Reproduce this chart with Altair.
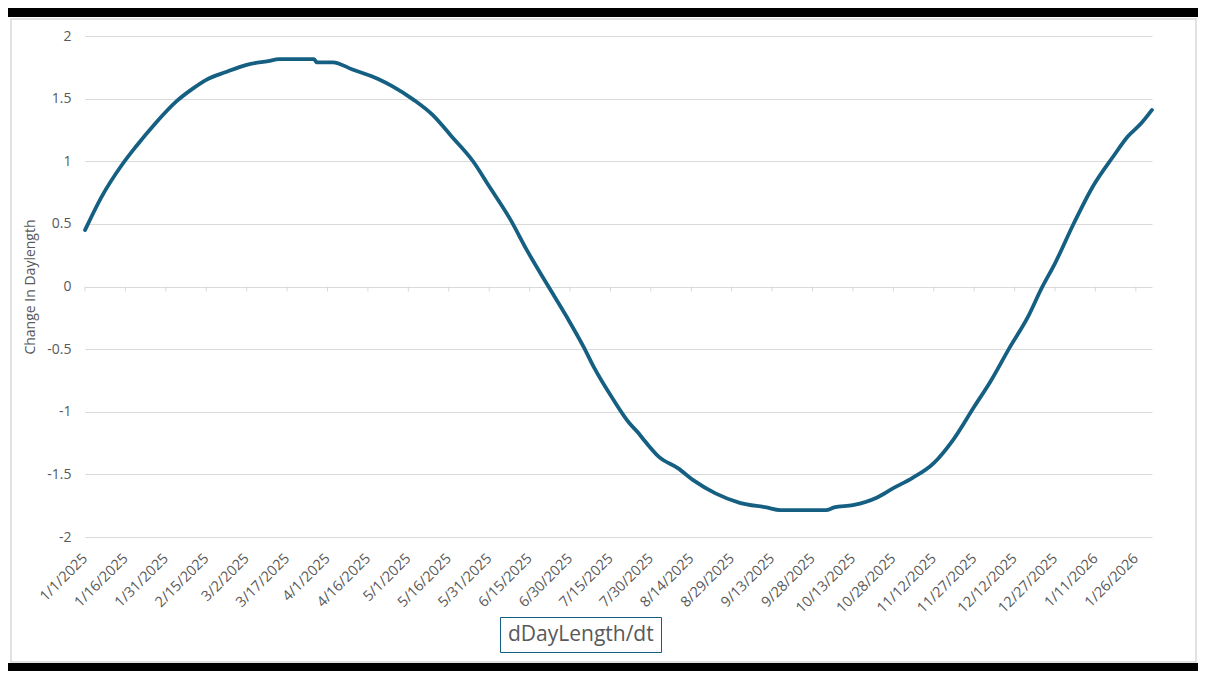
import altair as alt
import pandas as pd

# ---- data ----
DATES = [
    "2025-01-01", "2025-01-07", "2025-01-15", "2025-01-20", "2025-01-27",
    "2025-02-04", "2025-02-10", "2025-02-15", "2025-02-22", "2025-03-02",
    "2025-03-10", "2025-03-14", "2025-03-27", "2025-03-28", "2025-04-03",
    "2025-04-10", "2025-04-20", "2025-04-25", "2025-05-03",
    "2025-05-10", "2025-05-17", "2025-05-25", "2025-05-31", "2025-06-08",
    "2025-06-14", "2025-06-22", "2025-06-29", "2025-07-05", "2025-07-09",
    "2025-07-16", "2025-07-22", "2025-07-25",
    "2025-07-28", "2025-08-02", "2025-08-09", "2025-08-15", "2025-08-23",
    "2025-09-01", "2025-09-11", "2025-09-16", "2025-10-03", "2025-10-06",
    "2025-10-13", "2025-10-22", "2025-10-28", "2025-11-04", "2025-11-12",
    "2025-11-19", "2025-11-27", "2025-12-03", "2025-12-10", "2025-12-17",
    "2025-12-22", "2025-12-27", "2026-01-03", "2026-01-10", "2026-01-18",
    "2026-01-23", "2026-01-28", "2026-02-01",
]
VALUES = [
    0.45, 0.71, 0.98, 1.12, 1.30,
    1.48, 1.58, 1.65, 1.71, 1.77,
    1.80, 1.815, 1.815, 1.79, 1.79,
    1.735, 1.655, 1.60, 1.49,
    1.37, 1.20, 1.00, 0.80, 0.53,
    0.29, 0.0, -0.25, -0.48, -0.65,
    -0.90, -1.09, -1.16,
    -1.24, -1.36, -1.45, -1.55, -1.652,
    -1.727, -1.764, -1.785, -1.785, -1.764,
    -1.745, -1.684, -1.61, -1.53, -1.41,
    -1.23, -0.96, -0.76, -0.494, -0.241,
    -0.015, 0.185, 0.505, 0.797, 1.05,
    1.197, 1.303, 1.41,
]
TICK_DATES = [
    "2025-01-01", "2025-01-16", "2025-01-31", "2025-02-15", "2025-03-02",
    "2025-03-17", "2025-04-01", "2025-04-16", "2025-05-01", "2025-05-16",
    "2025-05-31", "2025-06-15", "2025-06-30", "2025-07-15", "2025-07-30",
    "2025-08-14", "2025-08-29", "2025-09-13", "2025-09-28", "2025-10-13",
    "2025-10-28", "2025-11-12", "2025-11-27", "2025-12-12", "2025-12-27",
    "2026-01-11", "2026-01-26",
]
X_DOMAIN = ["2025-01-01", "2026-02-01"]
Y_TICKS = [-2, -1.5, -1, -0.5, 0, 0.5, 1, 1.5, 2]
SERIES = "dDayLength/dt"
Y_TITLE = "Change In Daylength"

LINE_COLOR = "#156082"
TEXT_COLOR = "#595959"
GRID_COLOR = "#d9d9d9"
FONT = "Open Sans"

W, H = 1067, 501
PAD = {"left": 77, "top": 28, "right": 46, "bottom": 134}


def dt(s):
    y, m, d = (int(p) for p in s.split("-"))
    return alt.DateTime(year=y, month=m, date=d)


df = pd.DataFrame({"date": pd.to_datetime(DATES), "value": VALUES, "series": SERIES})
ticks_df = pd.DataFrame({"date": pd.to_datetime(TICK_DATES)})

x_scale = alt.Scale(domain=[dt(s) for s in X_DOMAIN])
y_scale = alt.Scale(domain=[-2, 2], nice=False, zero=False)

x_axis = alt.Axis(
    values=[dt(s) for s in TICK_DATES], format="%-m/%-d/%Y", labelAngle=-45,
    labelAlign="right", labelBaseline="middle", labelPadding=19, grid=False,
    ticks=False, domain=False, title=None, labelFontSize=14.5, labelColor=TEXT_COLOR,
    labelFont=FONT, labelOverlap=False, labelFlush=False,
)
y_axis = alt.Axis(
    values=Y_TICKS, labelExpr="'' + datum.value", grid=True, gridColor=GRID_COLOR,
    gridWidth=1, ticks=False, domain=False, labelPadding=14, labelFontSize=14,
    labelColor=TEXT_COLOR, labelFont=FONT, title=Y_TITLE, titleFontSize=14,
    titleColor=TEXT_COLOR, titleFont=FONT, titleFontWeight="normal", titlePadding=9,
)

one = alt.Data(values=[{}])

top_band = alt.Chart(one).mark_rect(color="black").encode(
    x=alt.value(-77), x2=alt.value(W + 46), y=alt.value(-28), y2=alt.value(-19)
)
bottom_band = alt.Chart(one).mark_rect(color="black").encode(
    x=alt.value(-77), x2=alt.value(W + 46), y=alt.value(627), y2=alt.value(640)
)
border = alt.Chart(one).mark_rect(fill="white", fillOpacity=0, stroke=GRID_COLOR, strokeWidth=1.5).encode(
    x=alt.value(-74), x2=alt.value(W + 44), y=alt.value(-17), y2=alt.value(626)
)

zero_ticks = alt.Chart(ticks_df).mark_rule(color=GRID_COLOR, strokeWidth=1, y2Offset=5).encode(
    x=alt.X("date:T", scale=x_scale, axis=x_axis),
    y=alt.datum(0, scale=y_scale, axis=y_axis),
    y2=alt.datum(0),
)

line = alt.Chart(df).mark_line(
    strokeWidth=3.8, strokeJoin="round", strokeCap="round", interpolate="monotone"
).encode(
    x=alt.X("date:T", scale=x_scale, axis=x_axis),
    y=alt.Y("value:Q", scale=y_scale, axis=y_axis),
    color=alt.Color(
        "series:N",
        scale=alt.Scale(range=[LINE_COLOR]),
        legend=alt.Legend(
            title=None, orient="none", legendX=415, legendY=581,
            strokeColor=LINE_COLOR, fillColor="white", padding=7, cornerRadius=0,
            symbolSize=0, symbolStrokeWidth=0, symbolOpacity=0,
            labelOffset={"expr": "-20"},
            labelFontSize=21, labelColor=TEXT_COLOR, labelFont=FONT,
            labelLimit=400,
        ),
    ),
)

chart = (
    alt.layer(top_band, bottom_band, border, zero_ticks, line)
    .properties(
        width=W, height=H, background="white",
        autosize=alt.AutoSizeParams(type="none"), padding=PAD,
    )
    .configure_view(stroke=None)
)

chart.save("out.html", embed_options={"renderer": "svg", "actions": False})
